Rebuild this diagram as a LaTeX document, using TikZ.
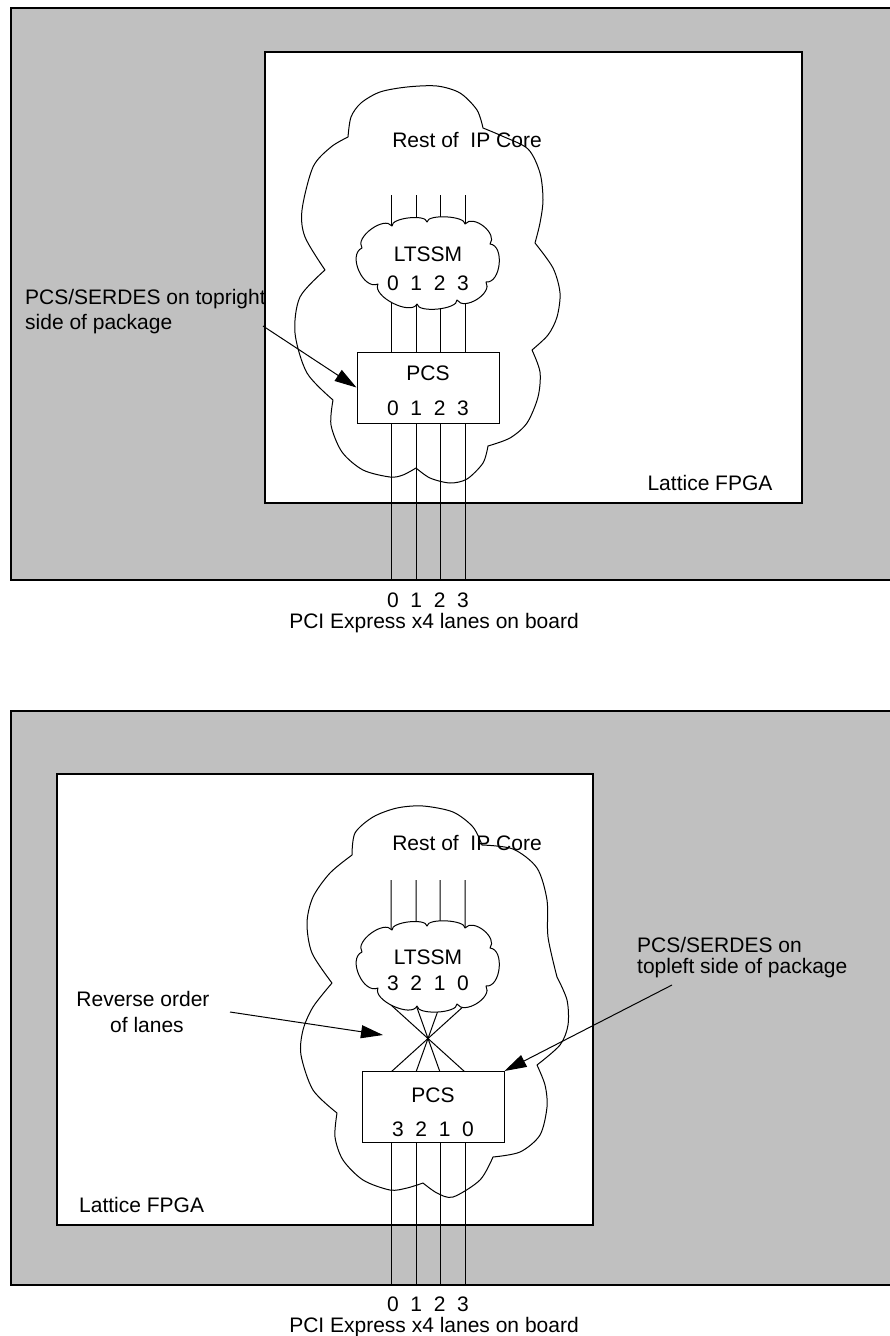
\documentclass[tikz,border=0pt]{standalone}
\usepackage{fontspec}
\setmainfont{Liberation Sans}
\usetikzlibrary{calc,arrows.meta}
\definecolor{boxgray}{RGB}{192,192,192}
\begin{document}
\begin{tikzpicture}[x=1pt,y=-1pt,
  every node/.style={font=\fontsize{21}{24}\selectfont, inner sep=0pt},
  outerbox/.style={fill=boxgray, draw=black, line width=1.6pt},
  innerbox/.style={fill=white, draw=black, line width=1.4pt},
  cloudline/.style={draw=black, line width=1pt, line join=round},
  lane/.style={draw=black, line width=1pt},
  pcsbox/.style={draw=black, fill=white, line width=1pt, rectangle, minimum width=142pt, minimum height=71pt},
  smallcloud/.style={draw=black, fill=white, line width=1pt, line join=round},
  sp/.style={bend left=90, looseness=#1},
  pointer/.style={draw=black, line width=1pt, -{Triangle[length=22pt,width=13pt]}},
  boardlabel/.style={align=center, font=\fontsize{21}{21}\selectfont, anchor=base},
]
\useasboundingbox (0,0) rectangle (890,1336);
\clip (0,0) rectangle (890,1336);

% ================= TOP PANEL =================
\draw[outerbox] (11,8) rectangle (905,580);
\draw[innerbox] (265,52) rectangle (802,503);

\foreach \i/\x in {0/391,1/416,2/440,3/465}{
  \coordinate (tl\i) at (\x,195);
  \coordinate (tp\i) at (\x,352);
  \coordinate (tq\i) at (\x,423);
  \coordinate (tbrd\i) at (\x,580);
  \draw[lane] (tl\i) -- (tp\i);
  \draw[lane] (tq\i) -- (tbrd\i);
}

% big cloud "Rest of IP Core" (top)
\draw[cloudline]
  plot[smooth] coordinates {(348,137) (351,117) (361,103) (380,92) (407,87) (437,86) (460,93) (477,110) (483,128)}
  -- plot[smooth] coordinates {(483,128) (502,136) (528,149) (540,173) (543,200) (540,223) (535,243)}
  -- plot[smooth] coordinates {(535,243) (553,268) (560,293) (557,317) (548,335) (532,350)}
  -- plot[smooth] coordinates {(532,350) (540,372) (538,397) (527,423) (510,438) (488,446)}
  -- plot[smooth] coordinates {(488,446) (483,463) (467,479) (450,483) (430,478) (416,468)}
  -- plot[smooth] coordinates {(416,468) (403,475) (390,477) (363,470) (342,452) (331,425) (333,400)}
  -- plot[smooth] coordinates {(333,400) (307,373) (295,333) (300,297) (325,270)}
  -- plot[smooth] coordinates {(325,270) (305,237) (302,210) (313,167) (331,147) (348,137)};

% LTSSM cloud (top)
\coordinate (tc1) at (362,248); \coordinate (tc2) at (392,226); \coordinate (tc3) at (427,222);
\coordinate (tc4) at (465,224); \coordinate (tc5) at (490,244); \coordinate (tc6) at (486,282);
\coordinate (tc7) at (457,300); \coordinate (tc8) at (417,304); \coordinate (tc9) at (378,284);
\path[smallcloud] (tc1) to[sp=0.9] (tc2) to[sp=0.6] (tc3) to[sp=0.55] (tc4) to[sp=1.05] (tc5)
  to[sp=1.0] (tc6) to[sp=1.0] (tc7) to[sp=0.6] (tc8) to[sp=0.8] (tc9) to[sp=1.05] (tc1) -- cycle;

\node[pcsbox] (tpcs) at (428,387.5) {};

\node (trest) at (467,140) {Rest of\ \ IP Core};
\node (tltssmtxt) at (428,254) {LTSSM};
\node (tltssmnum) at (428,283) {0\ \ 1\ \ 2\ \ 3};
\node (tpcstxt) at (428,373) {PCS};
\node (tpcsnum) at (428,408) {0\ \ 1\ \ 2\ \ 3};
\node (tfpga) at (710,483) {Lattice FPGA};
\node[boardlabel] (tboard) at (434,628) {0\ \ 1\ \ 2\ \ 3\hspace*{12pt}\\PCI Express x4 lanes on board};
\node[anchor=base west] (tlbl1) at (25,304) {PCS/SERDES on topright};
\node[anchor=base west] (tlbl2) at (25,329) {side of package};

\coordinate (tarr) at (263,326);
\draw[pointer] (tarr) -- (tpcs.west);

% ================= BOTTOM PANEL =================
\draw[outerbox] (11,711) rectangle (905,1285);
\draw[innerbox] (57,774) rectangle (593,1225);

\foreach \i/\x/\y in {0/391/465,1/416/440,2/440/416,3/465/391}{
  \coordinate (bl\i) at (\x,880);
  \coordinate (bm\i) at (\x,1005);
  \coordinate (bp\i) at (\y,1072);
  \coordinate (bq\i) at (\x,1142);
  \coordinate (bbrd\i) at (\x,1285);
  \draw[lane] (bl\i) -- (bm\i) -- (bp\i);
  \draw[lane] (bq\i) -- (bbrd\i);
}

% big cloud "Rest of IP Core" (bottom)
\draw[cloudline]
  plot[smooth] coordinates {(352,855) (355,833) (373,817) (397,808) (423,806) (453,812) (473,827) (482,845)}
  -- plot[smooth] coordinates {(482,845) (513,849) (537,868) (547,900) (548,937) (557,977)}
  -- plot[smooth] coordinates {(557,977) (567,1000) (568,1025) (560,1045) (537,1065)}
  -- plot[smooth] coordinates {(537,1065) (545,1085) (547,1107) (540,1135) (520,1152) (493,1157)}
  -- plot[smooth] coordinates {(493,1157) (480,1180) (453,1197) (437,1193) (423,1183)}
  -- plot[smooth] coordinates {(423,1183) (407,1188) (390,1190) (363,1180) (343,1160) (335,1137) (337,1113)}
  -- plot[smooth] coordinates {(337,1113) (313,1090) (301,1055) (303,1030) (313,1007) (332,983)}
  -- plot[smooth] coordinates {(332,983) (312,953) (307,923) (313,897) (330,873) (352,855)};

% LTSSM cloud (bottom)
\begin{scope}[shift={(0,704)}]
\coordinate (bc1) at (362,248); \coordinate (bc2) at (392,226); \coordinate (bc3) at (427,222);
\coordinate (bc4) at (465,224); \coordinate (bc5) at (490,244); \coordinate (bc6) at (486,282);
\coordinate (bc7) at (457,300); \coordinate (bc8) at (417,302); \coordinate (bc9) at (378,284);
\path[smallcloud] (bc1) to[sp=0.9] (bc2) to[sp=0.6] (bc3) to[sp=0.55] (bc4) to[sp=1.05] (bc5)
  to[sp=1.0] (bc6) to[sp=1.0] (bc7) to[sp=0.6] (bc8) to[sp=0.8] (bc9) to[sp=1.05] (bc1) -- cycle;
\end{scope}

\node[pcsbox] (bpcs) at (433,1107) {};

\node (brest) at (467,843) {Rest of\ \ IP Core};
\node (bltssmtxt) at (428,957) {LTSSM};
\node (bltssmnum) at (428,983) {3\ \ 2\ \ 1\ \ 0};
\node (bpcstxt) at (433,1095) {PCS};
\node (bpcsnum) at (433,1129) {3\ \ 2\ \ 1\ \ 0};
\node[anchor=west] (bfpga) at (79,1205) {Lattice FPGA};
\node[boardlabel] (bboard) at (434,1332) {0\ \ 1\ \ 2\ \ 3\hspace*{12pt}\\PCI Express x4 lanes on board};
\node (blbl1) at (143,999) {Reverse order};
\node (blbl2) at (147,1025) {of lanes};
\node[anchor=west] (brlbl1) at (637,945) {PCS/SERDES on};
\node[anchor=west] (brlbl2) at (637,968) {topleft side of package};

\coordinate (barrl) at (230,1012);
\coordinate (bcross) at (383,1035);
\draw[pointer] (barrl) -- (bcross);
\coordinate (barrr) at (672,985);
\draw[pointer] (barrr) -- (bpcs.north east);
\end{tikzpicture}
\end{document}
